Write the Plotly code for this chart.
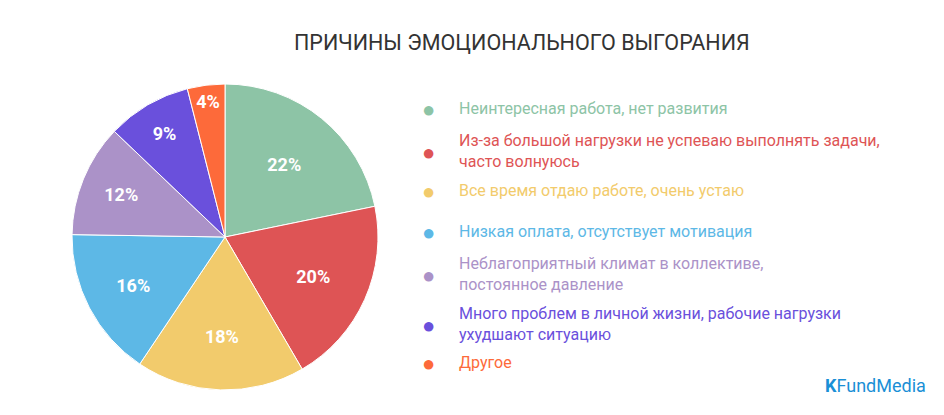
import plotly.graph_objects as go

# данные
labels = [
    "Неинтересная работа, нет развития",
    "Из-за большой нагрузки не успеваю выполнять задачи,<br>часто волнуюсь",
    "Все время отдаю работе, очень устаю",
    "Низкая оплата, отсутствует мотивация",
    "Неблагоприятный климат в коллективе,<br>постоянное давление",
    "Много проблем в личной жизни, рабочие нагрузки<br>ухудшают ситуацию",
    "Другое",
]
values = [22, 20, 18, 16, 12, 9, 4]
pct_text = ["22%", "20%", "18%", "16%", "12%", "9%", "4%"]
colors = ["#8DC4A6", "#DE5455", "#F2CB6C", "#5DB8E6", "#AB92C8", "#6A50DC", "#FD6A3A"]
legend_y = [108, 151, 190, 231, 274, 324, 362]  # пиксели сверху

# страница добавляет отступ 8px, поэтому фигура меньше и координаты сдвинуты
OFF = 8
W, H = 944 - 2 * OFF, 415 - 2 * OFF


def px(x):
    return (x - OFF) / W


def py(y):
    return 1 - (y - OFF) / H


fig = go.Figure(go.Pie(
    values=values, text=pct_text, textinfo="text",
    sort=False, direction="clockwise", rotation=0,
    marker=dict(colors=colors, line=dict(color="white", width=1)),
    textfont=dict(family="Roboto", size=18, color="white", weight="bold"),
    insidetextorientation="horizontal",
    domain=dict(x=[px(72), px(378)], y=[py(390), py(84)]),
    showlegend=False, hoverinfo="skip",
))

ann = [dict(text="ПРИЧИНЫ ЭМОЦИОНАЛЬНОГО ВЫГОРАНИЯ", x=px(522), y=py(42),
            xanchor="center", yanchor="middle",
            font=dict(family="Roboto", size=21.5, color="#333333"))]
for lab, col, yy in zip(labels, colors, legend_y):
    ann.append(dict(text="●", x=px(428), y=py(yy), xanchor="center", yanchor="middle",
                    font=dict(size=22, color=col)))
    ann.append(dict(text=lab, x=px(457), y=py(yy), xanchor="left", yanchor="middle",
                    align="left", font=dict(family="Roboto", size=16, color=col)))
ann.append(dict(text="<b>K</b>FundMedia", x=px(875), y=py(385), xanchor="center", yanchor="middle",
                font=dict(family="Roboto", size=18, color="#1a8fd6")))
for a in ann:
    a.update(xref="paper", yref="paper", showarrow=False)

fig.update_layout(width=W, height=H, margin=dict(l=0, r=0, t=0, b=0),
                  paper_bgcolor="white", annotations=ann)
fig.write_html("out.html")
